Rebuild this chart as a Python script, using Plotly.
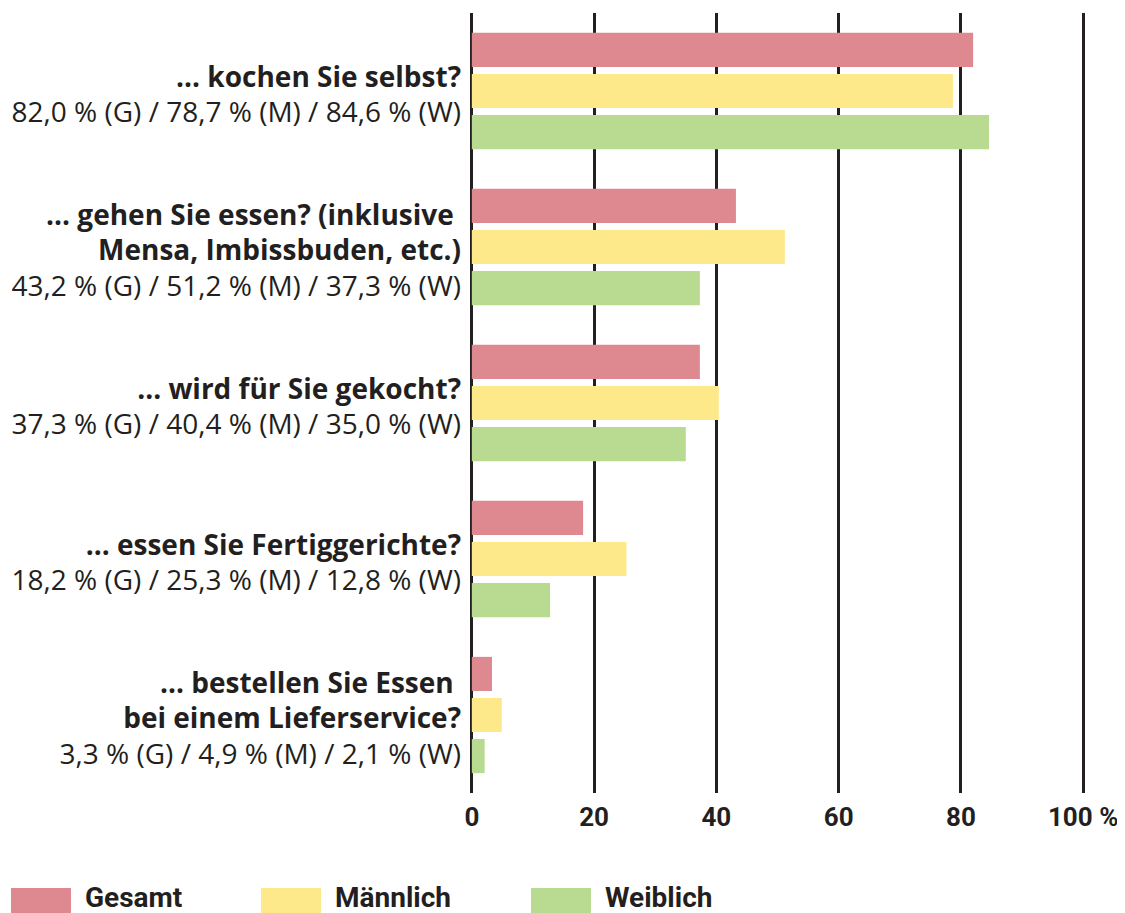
import plotly.graph_objects as go

questions = [
    "... kochen Sie selbst?",
    "... gehen Sie essen? (inklusive <br>Mensa, Imbissbuden, etc.)",
    "... wird für Sie gekocht?",
    "... essen Sie Fertiggerichte?",
    "... bestellen Sie Essen <br>bei einem Lieferservice?",
]
series_names = ["Gesamt", "Männlich", "Weiblich"]
series_short = ["G", "M", "W"]
gesamt = [82.0, 43.2, 37.3, 18.2, 3.3]
maennlich = [78.7, 51.2, 40.4, 25.3, 4.9]
weiblich = [84.6, 37.3, 35.0, 12.8, 2.1]
colors = ["#de8890", "#fee98a", "#b9da91"]
x_ticks = [0, 20, 40, 60, 80, 100]
x_ticktext = ["0", "20", "40", "60", "80", "100 %"]

TEXT = "#231f20"
values = [gesamt, maennlich, weiblich]

def fmt(v):
    return f"{v:.1f}".replace(".", ",")

ticktext = []
for i, q in enumerate(questions):
    bold = "<br>".join(f"<b>{part}</b>" for part in q.split("<br>"))
    pct = " / ".join(f"{fmt(values[s][i])} % ({series_short[s]})" for s in range(3))
    ticktext.append(f"<span style='font-size:28px'>{bold}</span><br>"
                    f"<span style='font-size:28px'>{pct}</span>")

ypos = list(range(len(questions)))

fig = go.Figure()
for s, name in enumerate(series_names):
    fig.add_trace(go.Bar(
        y=ypos, x=values[s], orientation="h", name=name,
        marker=dict(color=colors[s], line=dict(width=0)),
        showlegend=False, hoverinfo="x+name",
    ))

# page body has an 8px margin; figure is sized to fit the 1125x913 window
W, H = 1117, 905
L, R, T, B = 462, 40, 5, 120
plot_w = W - L - R
plot_h = H - T - B
base = H - B  # pixel y of the x axis inside the figure

fig.update_layout(
    width=W, height=H,
    margin=dict(l=L, r=R, t=T, b=B, autoexpand=False),
    paper_bgcolor="white", plot_bgcolor="white",
    barmode="group", bargap=0.21, bargroupgap=0.17,
    font=dict(family="Open Sans", color=TEXT),
)
fig.update_xaxes(
    range=[-0.3, 100.3], tickvals=x_ticks, ticktext=x_ticktext,
    showgrid=True, gridcolor=TEXT, gridwidth=3,
    zeroline=True, zerolinecolor=TEXT, zerolinewidth=3,
    tickfont=dict(family="Roboto", size=26, color=TEXT, weight="bold"),
    ticks="", ticklabelstandoff=6, fixedrange=True,
)
fig.update_yaxes(
    range=[4.5, -0.5], tickvals=ypos, ticktext=ticktext,
    showgrid=False, zeroline=False,
    tickfont=dict(family="Open Sans", size=27, color=TEXT),
    ticks="", ticklabelstandoff=8, ticklabelshift=-4, fixedrange=True,
)

# custom legend (large swatches)
leg_x = [3, 253, 523]
for s, name in enumerate(series_names):
    x0 = (leg_x[s] - L) / plot_w
    x1 = (leg_x[s] + 60 - L) / plot_w
    y_top = -(880 - base) / plot_h
    y_bot = -(905 - base) / plot_h
    fig.add_shape(type="rect", xref="paper", yref="paper",
                  x0=x0, x1=x1, y0=y_bot, y1=y_top,
                  fillcolor=colors[s], line=dict(width=0))
    fig.add_annotation(xref="paper", yref="paper",
                       x=(leg_x[s] + 72 - L) / plot_w,
                       y=-(889 - base) / plot_h,
                       text=f"<b>{name}</b>", showarrow=False,
                       xanchor="left", yanchor="middle",
                       font=dict(family="Roboto", size=28, color=TEXT))

fig.write_html("out.html")
